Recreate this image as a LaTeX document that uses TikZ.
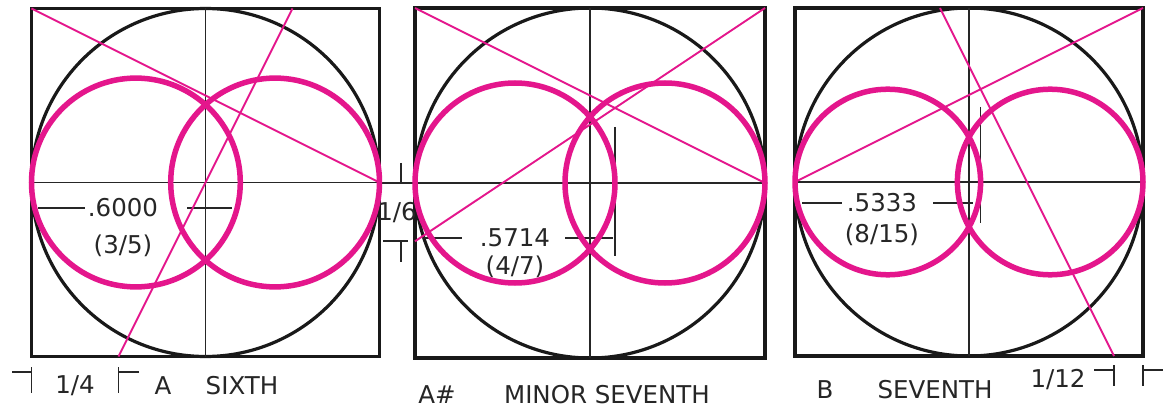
\documentclass[tikz,border=0pt]{standalone}
\usepackage{fontspec}
\setmainfont{DejaVu Sans}
\definecolor{pinkm}{RGB}{228,22,140}
\begin{document}
\begin{tikzpicture}[x=1pt,y=-1pt,
  frame/.style={line width=3.6pt,black!90},
  bigring/.style={line width=3.2pt,black!90},
  axis/.style={line width=1.3pt,black!85},
  pinkring/.style={line width=5.5pt,pinkm},
  pinkline/.style={line width=1.9pt,pinkm},
  dimline/.style={line width=1.3pt,black!85},
  lbl/.style={inner sep=0pt,text=black!85,font=\fontsize{24.5}{28}\selectfont},
]
\useasboundingbox (0,0) rectangle (1163,409);
\fill[white] (0,0) rectangle (1163,409);

% ---------- coordinates ----------
% panel 1
\coordinate (p1tl) at (31.5,8.5);  \coordinate (p1br) at (379.5,356.5);
\coordinate (p1c) at (205.5,182.5);
\coordinate (p1l) at (31.5,182.5); \coordinate (p1r) at (379.5,182.5);
\coordinate (p1t) at (205.5,8.5);  \coordinate (p1b) at (205.5,356.5);
\coordinate (p1q1) at (118.5,356.5); \coordinate (p1q3) at (292.5,8.5);
% panel 2
\coordinate (p2tl) at (415,8); \coordinate (p2br) at (765,358);
\coordinate (p2tr) at (765,8);
\coordinate (p2c) at (590,183);
\coordinate (p2l) at (415,183); \coordinate (p2r) at (765,183);
\coordinate (p2t) at (590,8);  \coordinate (p2b) at (590,358);
\coordinate (p2s) at (415,241.3);
% panel 3
\coordinate (p3tl) at (795,8); \coordinate (p3br) at (1143,356);
\coordinate (p3tr) at (1143,8);
\coordinate (p3c) at (969,182);
\coordinate (p3l) at (795,182); \coordinate (p3r) at (1143,182);
\coordinate (p3t) at (969,8);  \coordinate (p3b) at (969,356);
\coordinate (p3a) at (940,8); \coordinate (p3z) at (1114,356);

% ---------- frames, big circles, axes ----------
\draw[frame] (p1tl) rectangle (p1br);
\draw[frame] (p2tl) rectangle (p2br);
\draw[frame] (p3tl) rectangle (p3br);
\draw[bigring] (p1c) circle[radius=174];
\draw[bigring] (p2c) circle[radius=175];
\draw[bigring] (p3c) circle[radius=174];
\draw[axis] (p1l) -- (p1r) (p1t) -- (p1b);
\draw[axis] (p2l) -- (p2r) (p2t) -- (p2b);
\draw[axis] (p3l) -- (p3r) (p3t) -- (p3b);

% ---------- texts ----------
\node[lbl] (d1a) at (123,208) {.6000};
\node[lbl] (d1b) at (123,246) {(3/5)};
\node[lbl] (d2a) at (515,238) {.5714};
\node[lbl] (d2b) at (515,267) {(4/7)};
\node[lbl] (d3a) at (882,203) {.5333};
\node[lbl] (d3b) at (882,235) {(8/15)};
\node[lbl] (f14) at (75,386) {1/4};
\node[lbl] (f16) at (397,213) {1/6};
\node[lbl] (f112) at (1058,380) {1/12};
\node[lbl] (n1) at (163,386) {A};
\node[lbl] (c1) at (242,386) {SIXTH};
\node[lbl] (n2) at (437,395) {A\#};
\node[lbl] (c2) at (607,395) {MINOR SEVENTH};
\node[lbl] (n3) at (825,390) {B};
\node[lbl] (c3) at (935,390) {SEVENTH};

% ---------- dimension lines ----------
% panel 1: .6000
\draw[dimline] (38,208) -- (85,208);
\draw[dimline] (187,208) -- (232,208);
% panel 1: 1/4
\draw[dimline] (12,372) -- (31.5,372) (31.5,367) -- (31.5,393);
\draw[dimline] (139,372) -- (118.5,372) (118.5,367) -- (118.5,393);
% panel 2: 1/6
\draw[dimline] (381,183) -- (p2l);
\draw[dimline] (383,241) -- (408,241);
\draw[dimline] (401,163) -- (401,183);
\draw[dimline] (401,241) -- (401,262);
% panel 2: .5714
\draw[dimline] (423,238) -- (462,238);
\draw[dimline] (565,238) -- (613,238);
\draw[dimline] (615,127) -- (615,256);
% panel 3: .5333
\draw[dimline] (802,203) -- (842,203);
\draw[dimline] (933,203) -- (973,203);
\draw[dimline] (980.6,107) -- (980.6,223);
% panel 3: 1/12
\draw[dimline] (1094,370) -- (1114,370) (1114,365) -- (1114,386);
\draw[dimline] (1163,370) -- (1143,370) (1143,365) -- (1143,386);

% ---------- pink rings ----------
\draw[pinkring] (135.9,182.5) circle[radius=104.4];
\draw[pinkring] (275.1,182.5) circle[radius=104.4];
\draw[pinkring] (515,183) circle[radius=100];
\draw[pinkring] (665,183) circle[radius=100];
\draw[pinkring] (887.8,182) circle[radius=92.8];
\draw[pinkring] (1050.2,182) circle[radius=92.8];

% ---------- pink lines ----------
\draw[pinkline] (p1tl) -- (p1r);
\draw[pinkline] (p1q1) -- (p1q3);
\draw[pinkline] (p2tl) -- (p2r);
\draw[pinkline] (p2tr) -- (p2s);
\draw[pinkline] (p3l) -- (p3tr);
\draw[pinkline] (p3a) -- (p3z);
\end{tikzpicture}
\end{document}
